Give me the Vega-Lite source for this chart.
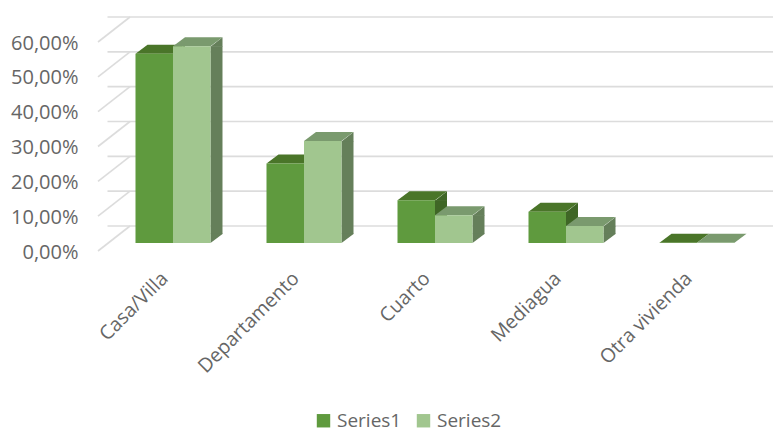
{
  "$schema": "https://vega.github.io/schema/vega-lite/v6.json",
  "width": 655,
  "height": 209,
  "autosize": {"type": "none"},
  "padding": {"left": 107.5, "top": 34, "right": 10.5, "bottom": 187},
  "background": "white",
  "config": {
    "view": {"stroke": null},
    "font": "Open Sans",
    "locale": {"number": {"decimal": ",", "thousands": ".", "grouping": [3], "currency": ["", " €"]}}
  },
  "data": {
    "values": [
      {"tipo": "Casa/Villa", "serie": "Series1", "valor": 0.543},
      {"tipo": "Casa/Villa", "serie": "Series2", "valor": 0.565},
      {"tipo": "Departamento", "serie": "Series1", "valor": 0.228},
      {"tipo": "Departamento", "serie": "Series2", "valor": 0.293},
      {"tipo": "Cuarto", "serie": "Series1", "valor": 0.123},
      {"tipo": "Cuarto", "serie": "Series2", "valor": 0.08},
      {"tipo": "Mediagua", "serie": "Series1", "valor": 0.09},
      {"tipo": "Mediagua", "serie": "Series2", "valor": 0.049},
      {"tipo": "Otra vivienda", "serie": "Series1", "valor": 0.001},
      {"tipo": "Otra vivienda", "serie": "Series2", "valor": 0.001}
    ]
  },
  "encoding": {
    "x": {
      "field": "tipo",
      "type": "nominal",
      "sort": null,
      "scale": {"paddingInner": 0.4275, "paddingOuter": 0.2137},
      "axis": {
        "title": null,
        "domain": false,
        "ticks": false,
        "labelAngle": -45,
        "labelAlign": "right",
        "labelBaseline": "middle",
        "labelFontSize": 19.5,
        "labelColor": "#666666",
        "labelPadding": 32,
        "labelOffset": -8,
        "labelOverlap": false
      }
    },
    "y": {
      "field": "valor",
      "type": "quantitative",
      "scale": {"domain": [0, 0.6], "nice": false},
      "axis": {
        "title": null,
        "format": ".2%",
        "values": [0, 0.1, 0.2, 0.3, 0.4, 0.5, 0.6],
        "grid": false,
        "domain": false,
        "ticks": false,
        "labelFontSize": 20,
        "labelColor": "#666666",
        "labelPadding": 29.5,
        "labelOffset": 9
      }
    }
  },
  "layer": [
    {
      "description": "Back wall gridlines",
      "data": {"values": [{"nivel": 0}, {"nivel": 0.1}, {"nivel": 0.2}, {"nivel": 0.3}, {"nivel": 0.4}, {"nivel": 0.5}, {"nivel": 0.6}]},
      "mark": {"type": "rule", "color": "#dcdcdc", "strokeWidth": 1.6, "xOffset": 22.5, "x2Offset": 10.5, "yOffset": -17},
      "encoding": {"x": null, "y": {"field": "nivel", "type": "quantitative"}}
    },
    {
      "description": "Side wall gridlines running towards the back",
      "data": {"values": [{"nivel": 0}, {"nivel": 0.1}, {"nivel": 0.2}, {"nivel": 0.3}, {"nivel": 0.4}, {"nivel": 0.5}, {"nivel": 0.6}]},
      "mark": {"type": "point", "shape": "M-9.5,8L22.5,-17", "size": 4, "filled": false, "opacity": 1, "stroke": "#dcdcdc", "strokeWidth": 1.6},
      "encoding": {"x": {"value": 0}, "y": {"field": "nivel", "type": "quantitative"}}
    },
    {
      "description": "Right face, first series: body",
      "transform": [{"filter": "datum.serie === 'Series1' && datum.valor >= 0.01"}],
      "mark": {"type": "rule", "strokeWidth": 12, "xOffset": 6, "y2Offset": -9, "color": "#3f6626"},
      "encoding": {"y2": {"datum": 0}}
    },
    {
      "description": "Right face, second series: body",
      "transform": [{"filter": "datum.serie === 'Series2' && datum.valor >= 0.01"}],
      "mark": {"type": "rule", "strokeWidth": 12, "xOffset": 43.5, "y2Offset": -9, "color": "#657f5a"},
      "encoding": {"y2": {"datum": 0}}
    },
    {
      "description": "Right face of each column: upper corner",
      "transform": [{"filter": "datum.valor >= 0.01"}],
      "mark": {"type": "point", "shape": "M18.75,0.5L30.75,-9L30.75,0.5Z", "size": 4, "filled": true, "opacity": 1, "strokeWidth": 0},
      "encoding": {
        "xOffset": {"field": "serie", "type": "nominal", "scale": {"paddingInner": 0, "paddingOuter": 0}},
        "color": {"field": "serie", "type": "nominal", "legend": null, "scale": {"range": ["#3f6626", "#657f5a"]}}
      }
    },
    {
      "description": "Right face of each column: lower corner",
      "transform": [{"filter": "datum.valor >= 0.01"}],
      "mark": {"type": "point", "shape": "M18.75,0L30.75,-9L30.75,-9.5L18.75,-9.5Z", "size": 4, "filled": true, "opacity": 1, "strokeWidth": 0},
      "encoding": {
        "xOffset": {"field": "serie", "type": "nominal", "scale": {"paddingInner": 0, "paddingOuter": 0}},
        "y": {"datum": 0},
        "color": {"field": "serie", "type": "nominal", "legend": null, "scale": {"range": ["#3f6626", "#657f5a"]}}
      }
    },
    {
      "description": "Top face of each column",
      "mark": {"type": "point", "shape": "M-18.75,0L18.75,0L30.75,-9L-6.75,-9Z", "size": 4, "filled": true, "opacity": 1, "strokeWidth": 0},
      "encoding": {
        "xOffset": {"field": "serie", "type": "nominal", "scale": {"paddingInner": 0, "paddingOuter": 0}},
        "color": {"field": "serie", "type": "nominal", "legend": null, "scale": {"range": ["#4a7529", "#7a9a6e"]}}
      }
    },
    {
      "description": "Front face of each column",
      "mark": {"type": "bar"},
      "encoding": {
        "xOffset": {"field": "serie", "type": "nominal", "scale": {"paddingInner": 0, "paddingOuter": 0}},
        "color": {
          "field": "serie",
          "type": "nominal",
          "scale": {"range": ["#5f9a3e", "#a1c68f"]},
          "legend": {
            "title": null,
            "orient": "none",
            "direction": "horizontal",
            "legendX": 206.5,
            "legendY": 377,
            "symbolType": "square",
            "symbolSize": 180,
            "symbolStrokeWidth": 0,
            "labelFontSize": 19,
            "labelColor": "#666666",
            "labelOffset": 4,
            "labelLimit": 300,
            "columnPadding": 12
          }
        }
      }
    }
  ],
  "resolve": {"scale": {"color": "independent"}}
}
